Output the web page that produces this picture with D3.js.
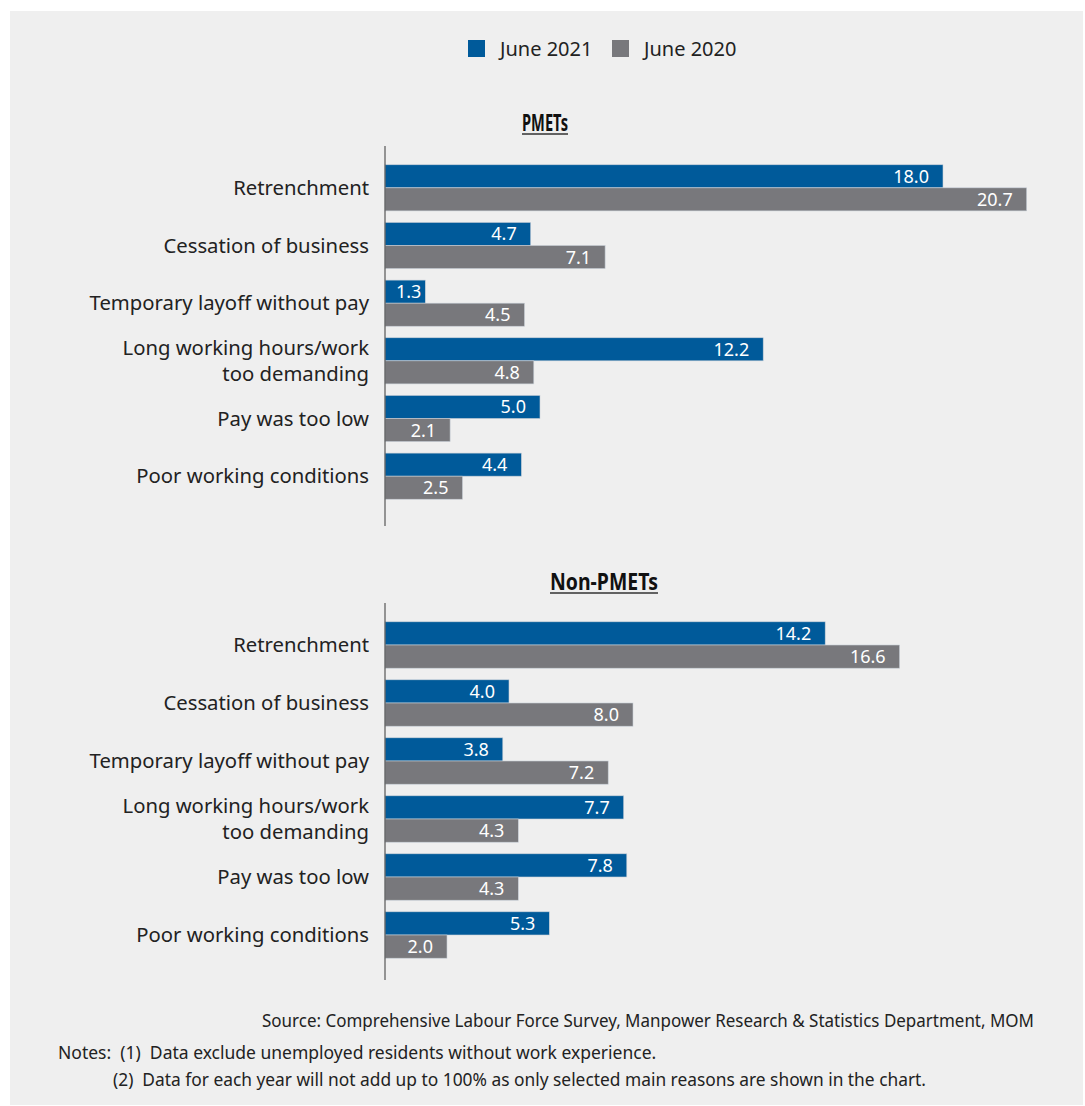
<!DOCTYPE html>
<html>
<head>
<meta charset="utf-8">
<script src="https://cdn.jsdelivr.net/npm/d3@7"></script>
<style>
  html, body { margin: 0; padding: 0; background: #ffffff; }
  svg { display: block; }
</style>
</head>
<body>
<script>
// ---- Data ----
const categories = [
  "Retrenchment",
  "Cessation of business",
  "Temporary layoff without pay",
  "Long working hours/work too demanding",
  "Pay was too low",
  "Poor working conditions"
];
const categoryLines = [
  ["Retrenchment"],
  ["Cessation of business"],
  ["Temporary layoff without pay"],
  ["Long working hours/work", "too demanding"],
  ["Pay was too low"],
  ["Poor working conditions"]
];
const seriesNames = ["June 2021", "June 2020"];
const pmets2021 = [18.0, 4.7, 1.3, 12.2, 5.0, 4.4];
const pmets2020 = [20.7, 7.1, 4.5, 4.8, 2.1, 2.5];
const nonPmets2021 = [14.2, 4.0, 3.8, 7.7, 7.8, 5.3];
const nonPmets2020 = [16.6, 8.0, 7.2, 4.3, 4.3, 2.0];
const panelTitles = ["PMETs", "Non-PMETs"];
const sourceText = "Source: Comprehensive Labour Force Survey, Manpower Research & Statistics Department, MOM";
const notesText = [
  "Notes:  (1)  Data exclude unemployed residents without work experience.",
  "(2)  Data for each year will not add up to 100% as only selected main reasons are shown in the chart."
];

// ---- Layout ----
const W = 1085, H = 1106;
const colors = ["#005a9a", "#78787c"];
const labelFont = "'Noto Sans', 'Open Sans', sans-serif";

const svg = d3.select("body").append("svg")
  .attr("width", W).attr("height", H);

svg.append("rect")
  .attr("x", 10).attr("y", 11).attr("width", 1073).attr("height", 1094)
  .attr("fill", "#efefef");

const x0 = 385;
const x = d3.scaleLinear().domain([0, 1]).range([x0, x0 + 31]);

// Legend
const legend = svg.append("g");
const legendX = [468, 612];
seriesNames.forEach((s, i) => {
  legend.append("rect")
    .attr("x", legendX[i]).attr("y", 40).attr("width", 17).attr("height", 17)
    .attr("fill", colors[i]);
  legend.append("text")
    .attr("x", legendX[i] + 32).attr("y", 56)
    .attr("font-family", labelFont).attr("font-size", 20)
    .attr("fill", "#222").text(s);
});

const panels = [
  { title: panelTitles[0], titleLen: 46, titleX: 545, titleY: 131, axisTop: 146, axisBottom: 526, bandTop: 159, bandBottom: 505, data: [pmets2021, pmets2020] },
  { title: panelTitles[1], titleLen: 108, titleX: 604, titleY: 590, axisTop: 603, axisBottom: 980, bandTop: 616, bandBottom: 964, data: [nonPmets2021, nonPmets2020] }
];

panels.forEach(p => {
  const g = svg.append("g");
  const y = d3.scaleBand().domain(categories)
    .range([p.bandTop, p.bandBottom]).paddingInner(0.2).paddingOuter(0.1);
  const ySub = d3.scaleBand().domain(seriesNames).range([0, y.bandwidth()]);

  // title
  g.append("text")
    .attr("x", p.titleX).attr("y", p.titleY)
    .attr("text-anchor", "middle")
    .attr("font-family", labelFont).attr("font-weight", "bold")
    .attr("font-size", 22.5).attr("fill", "#111")
    .attr("textLength", p.titleLen).attr("lengthAdjust", "spacingAndGlyphs")
    .text(p.title);
  g.append("line")
    .attr("x1", p.titleX - p.titleLen / 2).attr("x2", p.titleX + p.titleLen / 2)
    .attr("y1", p.titleY + 3).attr("y2", p.titleY + 3)
    .attr("stroke", "#333").attr("stroke-width", 1.3);

  // bars
  categories.forEach((c, ci) => {
    seriesNames.forEach((s, si) => {
      const v = p.data[si][ci];
      const by = y(c) + ySub(s);
      g.append("rect")
        .attr("x", x(0)).attr("y", by)
        .attr("width", x(v) - x(0)).attr("height", ySub.bandwidth())
        .attr("fill", colors[si])
        .attr("stroke", "#c8cfd8").attr("stroke-width", 0.6);
      const t = g.append("text")
        .attr("y", by + ySub.bandwidth() / 2 + 6.5)
        .attr("text-anchor", "end")
        .attr("font-family", labelFont).attr("font-size", 18)
        .attr("fill", "#ffffff").text(v.toFixed(1));
      const tw = t.node().getComputedTextLength();
      const xEnd = Math.max(x(v) - 14, Math.min(x(v) - 4, x(0) + 11 + tw));
      t.attr("x", xEnd);
    });
    // category labels
    const lines = categoryLines[ci];
    const cy = y(c) + y.bandwidth() / 2;
    const lh = 26;
    lines.forEach((ln, li) => {
      g.append("text")
        .attr("x", 369)
        .attr("y", cy + 7 + (li - (lines.length - 1) / 2) * lh)
        .attr("text-anchor", "end")
        .attr("font-family", labelFont).attr("font-size", 20.3)
        .attr("fill", "#222").text(ln);
    });
  });

  // axis line
  g.append("line")
    .attr("x1", x(0)).attr("x2", x(0))
    .attr("y1", p.axisTop).attr("y2", p.axisBottom)
    .attr("stroke", "#555").attr("stroke-width", 1.2);
});

// Footer
svg.append("text")
  .attr("x", 1034).attr("y", 1027).attr("text-anchor", "end")
  .attr("font-family", labelFont).attr("font-size", 17.5).attr("fill", "#222")
  .attr("textLength", 772).attr("lengthAdjust", "spacingAndGlyphs")
  .text(sourceText);
svg.append("text")
  .attr("x", 58).attr("y", 1059)
  .attr("font-family", labelFont).attr("font-size", 17.5).attr("fill", "#222")
  .style("white-space", "pre")
  .text(notesText[0]);
svg.append("text")
  .attr("x", 113).attr("y", 1086)
  .attr("font-family", labelFont).attr("font-size", 17.5).attr("fill", "#222")
  .attr("textLength", 813).attr("lengthAdjust", "spacingAndGlyphs")
  .style("white-space", "pre")
  .text(notesText[1]);
</script>
</body>
</html>
